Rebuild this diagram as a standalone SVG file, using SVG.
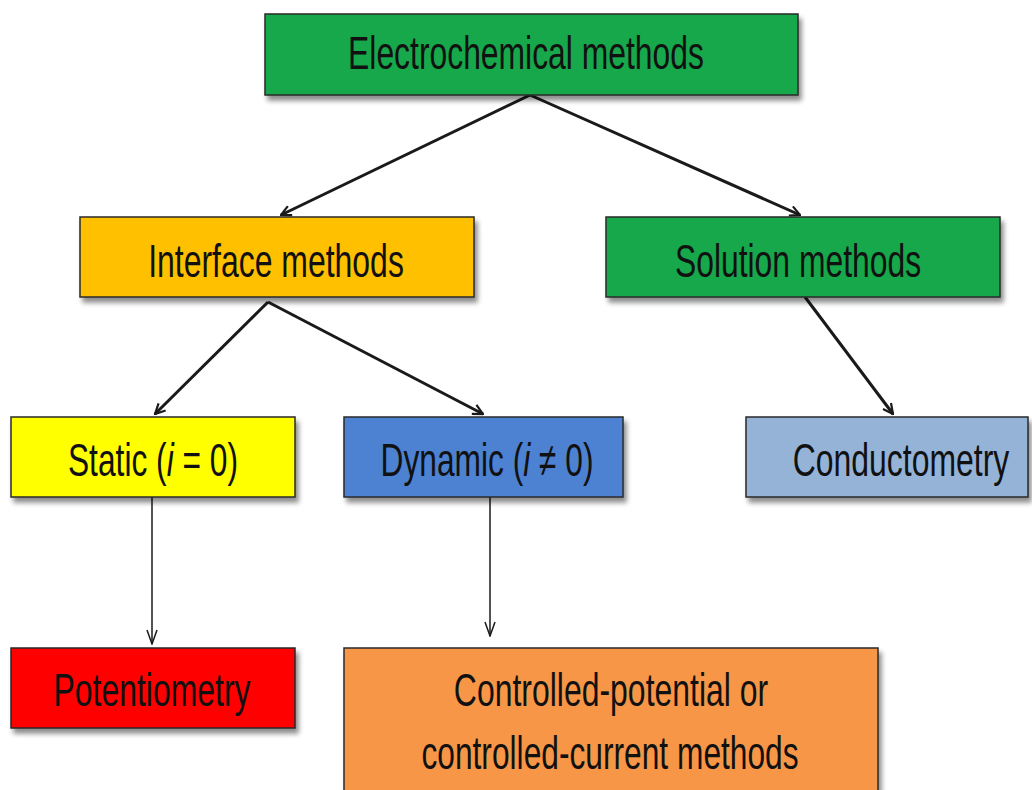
<svg xmlns="http://www.w3.org/2000/svg" width="1032" height="790" viewBox="0 0 1032 790">
<defs>
<filter id="sh" x="-5%" y="-10%" width="115%" height="135%">
<feGaussianBlur in="SourceAlpha" stdDeviation="2.5"/>
<feOffset dx="3" dy="5" result="b"/>
<feComponentTransfer><feFuncA type="linear" slope="0.45"/></feComponentTransfer>
<feMerge><feMergeNode/><feMergeNode in="SourceGraphic"/></feMerge>
</filter>
<marker id="ah" viewBox="0 0 12 12" refX="11" refY="6" markerWidth="12" markerHeight="12" markerUnits="userSpaceOnUse" orient="auto">
<path d="M1,1 L11,6 L1,11" fill="none" stroke="#1a1a1a" stroke-width="2.2"/>
</marker>
<marker id="ah2" viewBox="0 0 12 16" refX="6" refY="15" markerWidth="12" markerHeight="16" markerUnits="userSpaceOnUse" orient="0">
<path d="M1,1 L6,15 L11,1" fill="none" stroke="#1a1a1a" stroke-width="1.5"/>
</marker>
</defs>
<style>
.box{stroke:#2a2a2a;stroke-width:1.5;filter:url(#sh)}
.t{font-family:"Liberation Sans",Arial,sans-serif;font-size:47px;fill:#111;text-anchor:middle}
.c1{fill:none;stroke:#1a1a1a;stroke-width:3}
.c2{fill:none;stroke:#1a1a1a;stroke-width:1.5}
</style>
<rect width="1032" height="790" fill="#ffffff"/>
<g id="connectors">
<line class="c1" x1="530" y1="95" x2="281" y2="215" marker-end="url(#ah)"/>
<line class="c1" x1="530" y1="95" x2="800" y2="215" marker-end="url(#ah)"/>
<line class="c1" x1="268" y1="302" x2="155" y2="414" marker-end="url(#ah)"/>
<line class="c1" x1="268" y1="302" x2="483" y2="414" marker-end="url(#ah)"/>
<line class="c1" x1="805" y1="297" x2="893" y2="414" marker-end="url(#ah)"/>
<line class="c2" x1="152" y1="497" x2="152" y2="644" marker-end="url(#ah2)"/>
<line class="c2" x1="490" y1="490" x2="490" y2="636" marker-end="url(#ah2)"/>
</g>
<g id="n-electro">
<rect class="box" x="265" y="14" width="533" height="81" fill="#17a84c"/>
<text class="t" transform="translate(526 69) scale(0.678 1)">Electrochemical methods</text>
</g>
<g id="n-interface">
<rect class="box" x="80" y="217" width="394" height="80" fill="#ffc000"/>
<text class="t" transform="translate(276 277) scale(0.68 1)">Interface methods</text>
</g>
<g id="n-solution">
<rect class="box" x="606" y="217" width="394" height="80" fill="#17a84c"/>
<text class="t" transform="translate(798 277) scale(0.678 1)">Solution methods</text>
</g>
<g id="n-static">
<rect class="box" x="11" y="417" width="284" height="80" fill="#ffff00"/>
<text class="t" transform="translate(153 476) scale(0.675 1)">Static (<tspan font-style="italic">i</tspan> = 0)</text>
</g>
<g id="n-dynamic">
<rect class="box" x="344" y="417" width="279" height="80" fill="#4d82d2"/>
<text class="t" transform="translate(487 476) scale(0.675 1)">Dynamic (<tspan font-style="italic">i</tspan> ≠ 0)</text>
</g>
<g id="n-conduct">
<rect class="box" x="746" y="417" width="282" height="80" fill="#95b3d7"/>
<text class="t" transform="translate(901 476) scale(0.68 1)">Conductometry</text>
</g>
<g id="n-potentio">
<rect class="box" x="11" y="648" width="284" height="80" fill="#ff0000"/>
<text class="t" transform="translate(152 706) scale(0.68 1)">Potentiometry</text>
</g>
<g id="n-controlled">
<rect class="box" x="344" y="648" width="534" height="150" fill="#f79646"/>
<text class="t" transform="translate(611 706) scale(0.68 1)">Controlled-potential or</text>
<text class="t" transform="translate(610 769) scale(0.675 1)">controlled-current methods</text>
</g>
</svg>
